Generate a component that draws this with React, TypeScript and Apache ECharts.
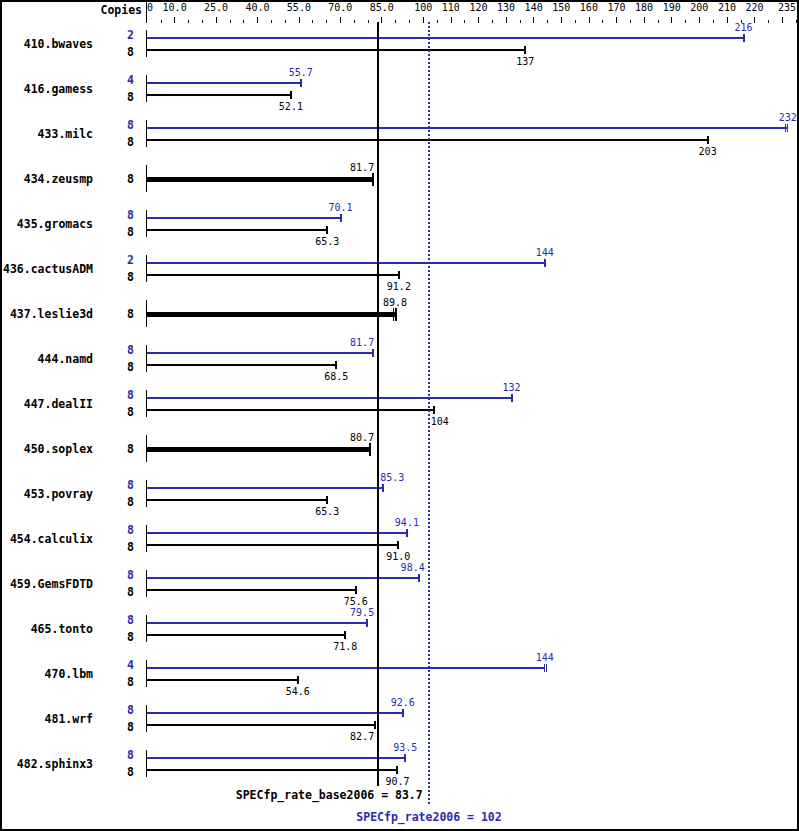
import React, { useEffect, useRef } from "react";
import * as echarts from "echarts";

const NAMES = [
  "410.bwaves", "416.gamess", "433.milc", "434.zeusmp", "435.gromacs",
  "436.cactusADM", "437.leslie3d", "444.namd", "447.dealII", "450.soplex",
  "453.povray", "454.calculix", "459.GemsFDTD", "465.tonto", "470.lbm",
  "481.wrf", "482.sphinx3",
];
const PEAK: (number | null)[] = [216, 55.7, 232, null, 70.1, 144, null, 81.7, 132, null, 85.3, 94.1, 98.4, 79.5, 144, 92.6, 93.5];
const BASE: number[] = [137, 52.1, 203, 81.7, 65.3, 91.2, 89.8, 68.5, 104, 80.7, 65.3, 91.0, 75.6, 71.8, 54.6, 82.7, 90.7];
const PEAK_COPIES: (number | null)[] = [2, 4, 8, null, 8, 2, null, 8, 8, null, 8, 8, 8, 8, 4, 8, 8];
const BASE_COPIES: number[] = [8, 8, 8, 8, 8, 8, 8, 8, 8, 8, 8, 8, 8, 8, 8, 8, 8];
// individual run results where they differ visibly (extra end ticks)
const PEAK_RUNS: Record<number, number[]> = { 2: [231.2, 232], 14: [144, 144.7] };
const BASE_RUNS: Record<number, number[]> = { 6: [89.1, 89.8, 90.5] };

const BASE_SCORE = 83.7;
const PEAK_SCORE = 102;
const BASE_LABEL = "SPECfp_rate_base2006 = 83.7";
const PEAK_LABEL = "SPECfp_rate2006 = 102";

const AXIS_MAX = 235;
const LABEL_TICKS = [0, 10, 25, 40, 55, 70, 85, 100, 110, 120, 130, 140, 150, 160, 170, 180, 190, 200, 210, 220, 235];
const LONG_TICKS = [10, 25, 40, 55, 70, 85, 100, 110, 120, 130, 140, 150, 160, 170, 180, 190, 200, 210, 220, 230];
const SHORT_TICKS = [5, 15, 20, 30, 35, 45, 50, 60, 65, 75, 80, 90, 95, 105, 115, 125, 135, 145, 155, 165, 175, 185, 195, 205, 215, 225, 235];

const BLUE = "#2b2bad";
const MONO = '"DejaVu Sans Mono", "Liberation Mono", monospace';

const fmt = (v: number) => (v >= 100 ? v.toFixed(0) : v.toFixed(1));

export default function App() {
  const ref = useRef<HTMLDivElement>(null);
  useEffect(() => {
    if (!ref.current) return;
    const chart = echarts.init(ref.current, undefined, { renderer: "svg" });

    // kind: 0 = peak, 1 = base, 2 = single (base only)
    const barData: any[] = [];
    const runsList: number[][] = [];
    NAMES.forEach((_, i) => {
      const p = PEAK[i];
      if (p != null) {
        barData.push([i, p, 0, PEAK_COPIES[i]]);
        runsList.push(PEAK_RUNS[i] || [p]);
        barData.push([i, BASE[i], 1, BASE_COPIES[i]]);
        runsList.push(BASE_RUNS[i] || [BASE[i]]);
      } else {
        barData.push([i, BASE[i], 2, BASE_COPIES[i]]);
        runsList.push(BASE_RUNS[i] || [BASE[i]]);
      }
    });

    const renderBar = (params: any, api: any) => {
      const row = api.value(0);
      const v = api.value(1);
      const kind = api.value(2);
      const copies = api.value(3);
      const start = api.coord([0, row]);
      const x0 = start[0];
      const yc = start[1];
      const x1 = api.coord([v, row])[0];
      const color = kind === 0 ? BLUE : "#000";
      const dy = kind === 0 ? -6 : kind === 1 ? 6 : 0;
      const t = kind === 2 ? 5 : 2;
      const y = kind === 2 ? Math.round(yc + dy) + 0.5 : Math.round(yc + dy);
      const capH = kind === 2 ? 13 : 8;
      const children: any[] = [];
      children.push({
        type: "rect",
        shape: { x: x0, y: y - t / 2, width: x1 - x0, height: t },
        style: { fill: color },
      });
      const runs = runsList[params.dataIndex];
      runs.forEach((r: number) => {
        const xr = api.coord([r, row])[0];
        const cw = runs.length > 1 ? 1 : 2;
        const cx = runs.length > 1 ? Math.floor(xr) : Math.round(xr) - 1;
        children.push({
          type: "rect",
          shape: { x: cx, y: Math.round(y - capH / 2), width: cw, height: capH },
          style: { fill: color },
        });
      });
      // value label, shifted to avoid the two score lines
      const text = fmt(v);
      const w = text.length * 6.02;
      let left = x1 - w / 2;
      const lines = [api.coord([BASE_SCORE, 0])[0], api.coord([PEAK_SCORE, 0])[0]];
      lines.forEach((L: number) => {
        if (left < L + 2 && left + w > L - 2) {
          if (x1 < L) left = L - 4 - w;
          else left = L + 2;
        }
      });
      const ly = kind === 0 ? y - 10.5 : kind === 1 ? y + 11.5 : y - 12;
      children.push({
        type: "text",
        x: left,
        y: ly,
        style: { text, fill: color, font: `10px ${MONO}`, textAlign: "left", textVerticalAlign: "middle" },
      });
      // copies
      children.push({
        type: "text",
        x: x0 - 13,
        y: kind === 0 ? yc - 8.5 : kind === 1 ? yc + 8.5 : yc,
        style: { text: String(copies), fill: color, font: `bold 11.5px ${MONO}`, textAlign: "right", textVerticalAlign: "middle" },
      });
      if (kind !== 0) {
        children.push({
          type: "line",
          shape: { x1: x0 - 0.5, y1: yc - 13.5, x2: x0 - 0.5, y2: yc + 13.5 },
          style: { stroke: "#000", lineWidth: 1 },
        });
      }
      return { type: "group", children };
    };

    const renderRef = (params: any, api: any) => {
      const v = api.value(0);
      const which = api.value(1);
      const x = Math.round(api.coord([v, 0])[0]);
      const xPeak = api.coord([PEAK_SCORE, 0])[0];
      if (which === 0) {
        return {
          type: "group",
          children: [
            { type: "line", shape: { x1: x, y1: 22, x2: x, y2: 786 }, style: { stroke: "#000", lineWidth: 2 } },
            {
              type: "text", x: xPeak - 6, y: 795,
              style: { text: BASE_LABEL, fill: "#000", font: `bold 11.5px ${MONO}`, textAlign: "right", textVerticalAlign: "middle" },
            },
          ],
        };
      }
      return {
        type: "group",
        children: [
          { type: "line", shape: { x1: x, y1: 22, x2: x, y2: 806 }, style: { stroke: BLUE, lineWidth: 2, lineDash: [2, 2] } },
          {
            type: "text", x: x, y: 817,
            style: { text: PEAK_LABEL, fill: BLUE, font: `bold 11.5px ${MONO}`, textAlign: "center", textVerticalAlign: "middle" },
          },
        ],
      };
    };

    chart.setOption({
      animation: false,
      backgroundColor: "#fff",
      grid: { left: 147, right: 3, top: 21, height: 765 },
      xAxis: [
        {
          type: "value", position: "top", min: 0, max: AXIS_MAX, offset: -2,
          axisLine: { show: false }, splitLine: { show: false },
          axisTick: { show: true, customValues: LONG_TICKS, length: 6, lineStyle: { color: "#000", width: 1 } },
          axisLabel: {
            customValues: LABEL_TICKS, margin: 11, color: "#000", fontSize: 10, fontFamily: MONO,
            alignMinLabel: "left", alignMaxLabel: "right", showMinLabel: true, showMaxLabel: true,
            formatter: (v: number) => (v === 0 ? "0" : v < 100 ? v.toFixed(1) : String(v)),
          },
        },
        {
          type: "value", position: "top", min: 0, max: AXIS_MAX, offset: -2,
          axisLine: { show: false }, splitLine: { show: false },
          axisTick: { show: true, customValues: SHORT_TICKS, length: 3, lineStyle: { color: "#000", width: 1 } },
          axisLabel: { show: false },
        },
      ],
      yAxis: {
        type: "category", data: NAMES, inverse: true,
        axisLine: { show: false }, axisTick: { show: false }, splitLine: { show: false },
        axisLabel: { margin: 54, color: "#000", fontSize: 11.5, fontWeight: "bold", fontFamily: MONO },
      },
      graphic: [
        { type: "rect", shape: { x: 1, y: 1, width: 797, height: 829 }, style: { fill: "none", stroke: "#000", lineWidth: 2 }, silent: true },
        { type: "line", shape: { x1: 146.5, y1: 0, x2: 146.5, y2: 23 }, style: { stroke: "#000", lineWidth: 1 } },
        { type: "text", x: 142, y: 10, style: { text: "Copies", fill: "#000", font: `bold 11.5px ${MONO}`, textAlign: "right", textVerticalAlign: "middle" } },
      ],
      series: [
        {
          type: "custom", xAxisIndex: 0, yAxisIndex: 0, data: barData, renderItem: renderBar,
          encode: { x: 1, y: 0 }, clip: false, z: 2,
        },
        {
          type: "custom", xAxisIndex: 0, yAxisIndex: 0, data: [[BASE_SCORE, 0], [PEAK_SCORE, 1]], renderItem: renderRef,
          encode: { x: 0 }, clip: false, z: 5,
        },
      ],
    });
    return () => chart.dispose();
  }, []);
  return <div ref={ref} style={{ position: "absolute", left: 0, top: 0, width: 799, height: 831 }} />;
}
